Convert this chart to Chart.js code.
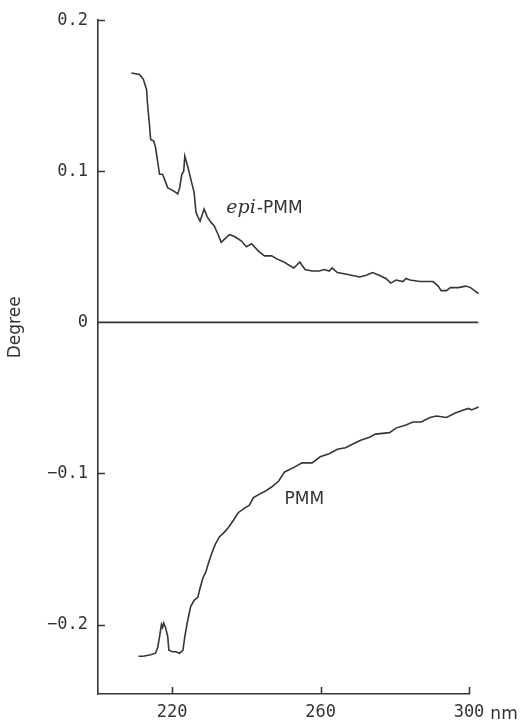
<!DOCTYPE html>
<html>
<head>
<meta charset="utf-8">
<script src="https://cdn.jsdelivr.net/npm/chart.js@4"></script>
<style>
  html, body { margin: 0; padding: 0; background: #fff; }
  canvas { display: block; }
</style>
</head>
<body>
<canvas id="cd-chart" width="532" height="720"></canvas>
<script>
// Wavelength (nm) and ellipticity (degree)
const epiWavelengths = [
    209.0, 211.2, 212.2, 213.1, 213.3, 213.9, 214.2, 215.0, 215.5, 216.1,
    216.6, 217.4, 218.2, 218.8, 219.6, 220.4, 221.5, 222.0, 222.6, 223.1,
    223.4, 224.2, 225.0, 225.9, 226.4, 226.9, 227.5, 228.6, 229.4, 230.5,
    231.3, 232.4, 233.2, 235.4, 236.7, 237.3, 238.6, 240.0, 241.4, 243.3,
    244.9, 246.8, 248.2, 250.1, 251.4, 252.8, 254.4, 255.8, 257.7, 259.6,
    261.0, 262.3, 263.1, 264.5, 266.7, 268.6, 270.5, 272.1, 274.0, 275.9,
    277.6, 278.9, 280.3, 282.2, 283.0, 284.1, 286.8, 290.3, 291.7, 292.5,
    293.9, 295.0, 297.1, 299.1, 300.4, 302.6
];
const epiDegrees = [
    0.165, 0.164, 0.161, 0.154, 0.146, 0.130, 0.121, 0.120, 0.116, 0.106,
    0.098, 0.098, 0.093, 0.089, 0.088, 0.087, 0.085, 0.089, 0.098, 0.100,
    0.110, 0.103, 0.095, 0.086, 0.073, 0.070, 0.067, 0.075, 0.070, 0.066,
    0.064, 0.058, 0.053, 0.058, 0.057, 0.056, 0.054, 0.050, 0.052, 0.047,
    0.044, 0.044, 0.042, 0.040, 0.038, 0.036, 0.040, 0.035, 0.034, 0.034,
    0.035, 0.034, 0.036, 0.033, 0.032, 0.031, 0.030, 0.031, 0.033, 0.031,
    0.029, 0.026, 0.028, 0.027, 0.029, 0.028, 0.027, 0.027, 0.024, 0.021,
    0.021, 0.023, 0.023, 0.024, 0.023, 0.019
];

const pmmWavelengths = [
    210.9, 212.2, 214.2, 215.5, 216.1, 216.6, 217.1, 217.4, 217.7, 218.2,
    218.8, 219.1, 220.1, 221.0, 222.0, 222.9, 223.4, 224.2, 225.0, 225.9,
    226.9, 227.5, 228.3, 229.1, 229.7, 230.5, 231.6, 232.7, 234.0, 235.1,
    236.5, 237.8, 239.5, 240.8, 241.9, 243.3, 244.9, 246.8, 248.7, 250.3,
    252.8, 255.0, 257.7, 259.9, 262.3, 264.5, 266.7, 269.1, 270.8, 273.2,
    274.8, 278.6, 280.3, 283.0, 284.9, 287.1, 289.5, 291.2, 293.9, 296.3,
    298.5, 299.9, 300.7, 302.6
];
const pmmDegrees = [
    -0.221, -0.221, -0.220, -0.219, -0.215, -0.208, -0.200, -0.202, -0.199, -0.202,
    -0.208, -0.217, -0.218, -0.218, -0.219, -0.217, -0.208, -0.197, -0.188, -0.184,
    -0.182, -0.176, -0.169, -0.165, -0.160, -0.154, -0.147, -0.142, -0.139, -0.136,
    -0.131, -0.126, -0.123, -0.121, -0.116, -0.114, -0.112, -0.109, -0.105, -0.099,
    -0.096, -0.093, -0.093, -0.089, -0.087, -0.084, -0.083, -0.080, -0.078, -0.076,
    -0.074, -0.073, -0.070, -0.068, -0.066, -0.066, -0.063, -0.062, -0.063, -0.060,
    -0.058, -0.057, -0.058, -0.056
];

// Baseline drawn across the plot
const baselineWavelengths = [200, 302.5];
const baselineDegrees = [0, 0];

// Axis ranges and ticks
const wavelengthRange = [200, 300];
const degreeRange = [-0.246, 0.2];
const wavelengthTicks = [220, 260, 300];
const degreeTicks = [0.2, 0.1, 0, -0.1, -0.2];

const INK = '#363636';
const MONO = '"DejaVu Sans Mono", monospace';

function toPoints(xs, ys) {
    return xs.map((x, i) => ({ x: x, y: ys[i] }));
}

function lineSet(label, xs, ys) {
    return {
        label: label,
        data: toPoints(xs, ys),
        borderColor: INK,
        borderWidth: 1.6,
        pointRadius: 0,
        tension: 0,
        fill: false,
        clip: false
    };
}

// Inward tick marks, axis units and curve labels
const decorations = {
    id: 'decorations',
    afterDraw(chart) {
        const ctx = chart.ctx;
        const xs = chart.scales.x;
        const ys = chart.scales.y;
        const area = chart.chartArea;

        ctx.save();
        ctx.strokeStyle = INK;
        ctx.lineWidth = 1.6;
        ctx.beginPath();
        degreeTicks.forEach(v => {
            if (v === 0) return;
            const y = Math.round(ys.getPixelForValue(v)) + 0.5;
            ctx.moveTo(area.left, y);
            ctx.lineTo(area.left + 7, y);
        });
        wavelengthTicks.forEach(v => {
            const x = Math.round(xs.getPixelForValue(v)) + 0.5;
            ctx.moveTo(x, area.bottom);
            ctx.lineTo(x, area.bottom - 7);
        });
        ctx.stroke();

        ctx.fillStyle = '#333';
        ctx.textBaseline = 'alphabetic';

        // "nm" after the last wavelength label
        ctx.font = '17px ' + MONO;
        const lastX = xs.getPixelForValue(300);
        const halfW = ctx.measureText('300').width / 2;
        ctx.font = '17px "DejaVu Sans", sans-serif';
        ctx.textAlign = 'left';
        ctx.fillText('nm', lastX + halfW + 6, area.bottom + 25);

        // Axis title
        ctx.save();
        ctx.translate(16, ys.getPixelForValue(0) + 5);
        ctx.rotate(-Math.PI / 2);
        ctx.textAlign = 'center';
        ctx.textBaseline = 'middle';
        ctx.font = '17px "DejaVu Sans", sans-serif';
        ctx.fillText('Degree', 0, 0);
        ctx.restore();

        // Curve labels
        let px = xs.getPixelForValue(234.6);
        let py = ys.getPixelForValue(0.0725);
        ctx.font = 'italic 19px "DejaVu Serif", serif';
        ctx.textAlign = 'left';
        ctx.fillText('epi', px, py);
        px += ctx.measureText('epi').width + 1;
        ctx.font = '17px "DejaVu Sans", sans-serif';
        ctx.fillText('-PMM', px, py);

        ctx.fillText('PMM', xs.getPixelForValue(250.3), ys.getPixelForValue(-0.1205));
        ctx.restore();
    }
};

new Chart(document.getElementById('cd-chart'), {
    type: 'line',
    data: {
        datasets: [
            lineSet('epi-PMM', epiWavelengths, epiDegrees),
            lineSet('PMM', pmmWavelengths, pmmDegrees),
            lineSet('baseline', baselineWavelengths, baselineDegrees)
        ]
    },
    options: {
        responsive: false,
        animation: false,
        layout: { padding: { left: 0, right: 63, top: 20, bottom: 0 } },
        plugins: {
            legend: { display: false },
            tooltip: { enabled: false }
        },
        scales: {
            x: {
                type: 'linear',
                bounds: 'data',
                // range set after data limits so points past 300 nm are still drawn
                afterDataLimits: axis => {
                    axis.min = wavelengthRange[0];
                    axis.max = wavelengthRange[1];
                },
                afterBuildTicks: axis => {
                    axis.ticks = wavelengthTicks.map(v => ({ value: v }));
                },
                afterFit: axis => { axis.height = 26; },
                grid: { display: false, drawTicks: false },
                border: { display: true, color: INK, width: 1.6 },
                ticks: {
                    color: '#333',
                    padding: 8,
                    maxRotation: 0,
                    font: { family: MONO, size: 17 },
                    callback: v => String(v)
                }
            },
            y: {
                type: 'linear',
                bounds: 'data',
                afterDataLimits: axis => {
                    axis.min = degreeRange[0];
                    axis.max = degreeRange[1];
                },
                afterBuildTicks: axis => {
                    axis.ticks = degreeTicks.map(v => ({ value: v }));
                },
                afterFit: axis => { axis.width = 98; },
                grid: { display: false, drawTicks: false },
                border: { display: true, color: INK, width: 1.6 },
                ticks: {
                    color: '#333',
                    padding: 10,
                    font: { family: MONO, size: 17 },
                    callback: v => v === 0 ? '0' : (v < 0 ? '\u2212' : '') + Math.abs(v).toFixed(1)
                }
            }
        }
    },
    plugins: [decorations]
});
</script>
</body>
</html>
